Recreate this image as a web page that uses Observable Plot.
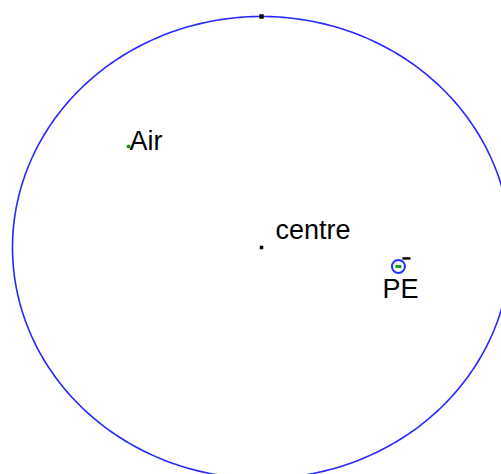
<!DOCTYPE html>
<html>
<head>
<meta charset="utf-8">
<script src="https://cdn.jsdelivr.net/npm/d3@7"></script>
<script src="https://cdn.jsdelivr.net/npm/@observablehq/plot@0.6"></script>
<style>
  html, body { margin: 0; padding: 0; background: #fff; overflow: hidden; }
  #chart svg { display: block; }
</style>
</head>
<body>
<div id="chart"></div>
<script>
// Boundary circle (data units)
const circleCentre = [0, 0];
const circleRadius = 1;

// Labelled points (data units)
const pointNames = ["Air", "centre", "PE"];
const pointX = [-0.534, 0, 0.550];
const pointY = [0.437, 0, -0.082];

// Marker at the top of the circle
const topX = [0];
const topY = [1];

// outline of the boundary circle
const angles = d3.range(0, 361, 1);
const ring = angles.map(a => ({
  x: circleCentre[0] + circleRadius * Math.cos(a * Math.PI / 180),
  y: circleCentre[1] + circleRadius * Math.sin(a * Math.PI / 180)
}));

const pts = pointNames.map((n, i) => ({name: n, x: pointX[i], y: pointY[i]}));
const airPts = pts.filter(d => d.name === "Air");
const ctrPts = pts.filter(d => d.name === "centre");
const pePts = pts.filter(d => d.name === "PE");
const topPts = topX.map((x, i) => ({x, y: topY[i]}));

const font = "Liberation Sans, Arial, sans-serif";

// short horizontal dash symbol
const dash = {draw(ctx, size) { ctx.moveTo(-4, 0); ctx.lineTo(4, 0); }};
const greenDash = {draw(ctx, size) { ctx.rect(-3, -1.5, 6, 3); }};

const chart = Plot.plot({
  width: 501,
  height: 474,
  margin: 0,
  x: {domain: [-261 / 249, 240 / 249], axis: null},
  y: {domain: [-227 / 231, 247 / 231], axis: null},
  style: {background: "white", fontFamily: font},
  marks: [
    Plot.line(ring, {x: "x", y: "y", stroke: "#2828ff", strokeWidth: 1.6, clip: true}),
    Plot.dot(topPts, {x: "x", y: "y", symbol: "square", r: 2.5, fill: "black"}),
    Plot.dot(ctrPts, {x: "x", y: "y", symbol: "square", r: 2, fill: "black"}),
    Plot.dot(airPts, {x: "x", y: "y", r: 2, fill: "#1a9a1a"}),
    Plot.dot(pePts, {x: "x", y: "y", r: 6.5, stroke: "#2030ff", strokeWidth: 2, fill: "none"}),
    Plot.dot(pePts, {x: "x", y: "y", symbol: dash, dx: 8, dy: -8, stroke: "black", strokeWidth: 2.5}),
    Plot.dot(pePts, {x: "x", y: "y", symbol: greenDash, fill: "#1a9a1a"}),
    Plot.text(airPts, {x: "x", y: "y", text: "name", textAnchor: "start", dx: 1, dy: -5, fontSize: 27, fill: "black", fontFamily: font}),
    Plot.text(ctrPts, {x: "x", y: "y", text: "name", textAnchor: "start", dx: 14, dy: -17, fontSize: 27, fill: "black", fontFamily: font}),
    Plot.text(pePts, {x: "x", y: "y", text: "name", textAnchor: "middle", dx: 2, dy: 23, fontSize: 27, fill: "black", fontFamily: font})
  ]
});
document.getElementById("chart").appendChild(chart);
</script>
</body>
</html>
